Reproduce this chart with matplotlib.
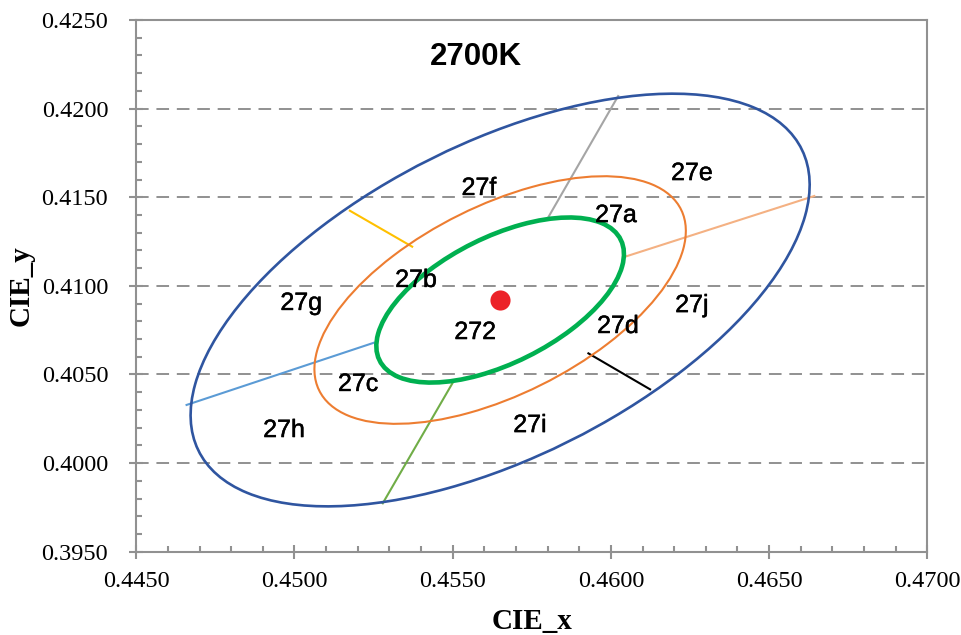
import numpy as np
import matplotlib
matplotlib.use("Agg")
import matplotlib.pyplot as plt
import matplotlib.patheffects as pe
from matplotlib.patches import Ellipse
from matplotlib.ticker import MultipleLocator, FormatStrFormatter

plt.rcParams["font.family"] = ["Liberation Serif", "DejaVu Serif"]

# 2700K MacAdam ellipse definition (CIE 1931 xy)
center_x = 0.4565
center_y = 0.4092
semi_a = 0.0027      # one-step semi-major axis
semi_b = 0.0014      # one-step semi-minor axis
theta_deg = 53.7

# ellipse step sizes and their outline styles
steps = [5, 3, 2]
step_colors = ["#2F55A0", "#ED7D31", "#00B050"]
step_widths = [1.9, 1.5, 3.3]

# dividing lines between the sub-bins: (x0, y0, x1, y1)
div_x0 = [0.45799, 0.46039, 0.45929, 0.45502, 0.45251, 0.45175]
div_y0 = [0.41377, 0.41161, 0.40619, 0.40459, 0.40679, 0.41424]
div_x1 = [0.46023, 0.46643, 0.46124, 0.45279, 0.44659, 0.45372]
div_y1 = [0.42071, 0.41507, 0.40416, 0.39773, 0.40328, 0.41221]
div_colors = ["#A5A5A5", "#F4B183", "#000000", "#70AD47", "#5B9BD5", "#FFC000"]

# bin labels
bin_names = ["27f", "27e", "27a", "27b", "27g", "27j", "27d", "272", "27c", "27h", "27i"]
bin_x = [0.45583, 0.46256, 0.46016, 0.45384, 0.45021, 0.46256, 0.46022, 0.45571, 0.45201, 0.44967, 0.45744]
bin_y = [0.41513, 0.41597, 0.41360, 0.40994, 0.40864, 0.40852, 0.40734, 0.40700, 0.40407, 0.40147, 0.40175]

fig = plt.figure(figsize=(9.61, 6.35), dpi=100)
ax = fig.add_axes([0.1418, 0.1312, 0.8231, 0.8373])

ax.set_xlim(0.4450, 0.4700)
ax.set_ylim(0.3950, 0.4250)

ax.yaxis.set_major_locator(MultipleLocator(0.005))
ax.yaxis.set_minor_locator(MultipleLocator(0.001))
ax.xaxis.set_major_locator(MultipleLocator(0.005))
ax.xaxis.set_minor_locator(MultipleLocator(0.001))
ax.yaxis.set_major_formatter(FormatStrFormatter("%.4f"))
ax.xaxis.set_major_formatter(FormatStrFormatter("%.4f"))

# horizontal dashed grid
ax.grid(axis="y", which="major", color="#919191", linewidth=1.4,
        dashes=(6.5, 4.0), zorder=0)
ax.set_axisbelow(True)

for s, c, w in zip(steps, step_colors, step_widths):
    ell = Ellipse((center_x, center_y), width=2 * semi_a * s, height=2 * semi_b * s,
                  angle=theta_deg, fill=False, edgecolor=c, linewidth=w, zorder=3)
    ax.add_patch(ell)

for x0, y0, x1, y1, c in zip(div_x0, div_y0, div_x1, div_y1, div_colors):
    ax.plot([x0, x1], [y0, y1], color=c, linewidth=1.5, zorder=2)

ax.plot([center_x], [center_y], "o", color="#EC2228", markersize=14.5,
        markeredgewidth=0, zorder=5)

label_fx = [pe.withStroke(linewidth=0.35, foreground="black")]
for name, x, y in zip(bin_names, bin_x, bin_y):
    ax.text(x, y, name, ha="center", va="baseline", fontsize=18,
            family="Liberation Sans", color="black", zorder=6,
            path_effects=label_fx)

ax.text(0.430, 0.930, "2700K", transform=ax.transAxes, ha="center", va="center",
        fontsize=22.5, fontweight="bold", family="Liberation Sans")

for sp in ax.spines.values():
    sp.set_color("#919191")
    sp.set_linewidth(1.5)

ax.tick_params(which="major", direction="inout", length=9.5, width=1.5,
               color="#919191", labelsize=17.5)
ax.tick_params(axis="y", which="major", pad=15.5)
ax.tick_params(axis="x", which="major", pad=9.5)
ax.tick_params(which="minor", direction="in", length=4, width=1.5, color="#919191")
ax.tick_params(axis="y", which="both", right=False)
ax.tick_params(axis="x", which="both", top=False)

ax.set_xlabel("CIE_x", fontsize=21, fontweight="bold")
ax.set_ylabel("CIE_y", fontsize=21, fontweight="bold")
ax.xaxis.set_label_coords(0.5, -0.105)
ax.yaxis.set_label_coords(-0.128, 0.5)

fig.savefig("out.png", dpi=100)
